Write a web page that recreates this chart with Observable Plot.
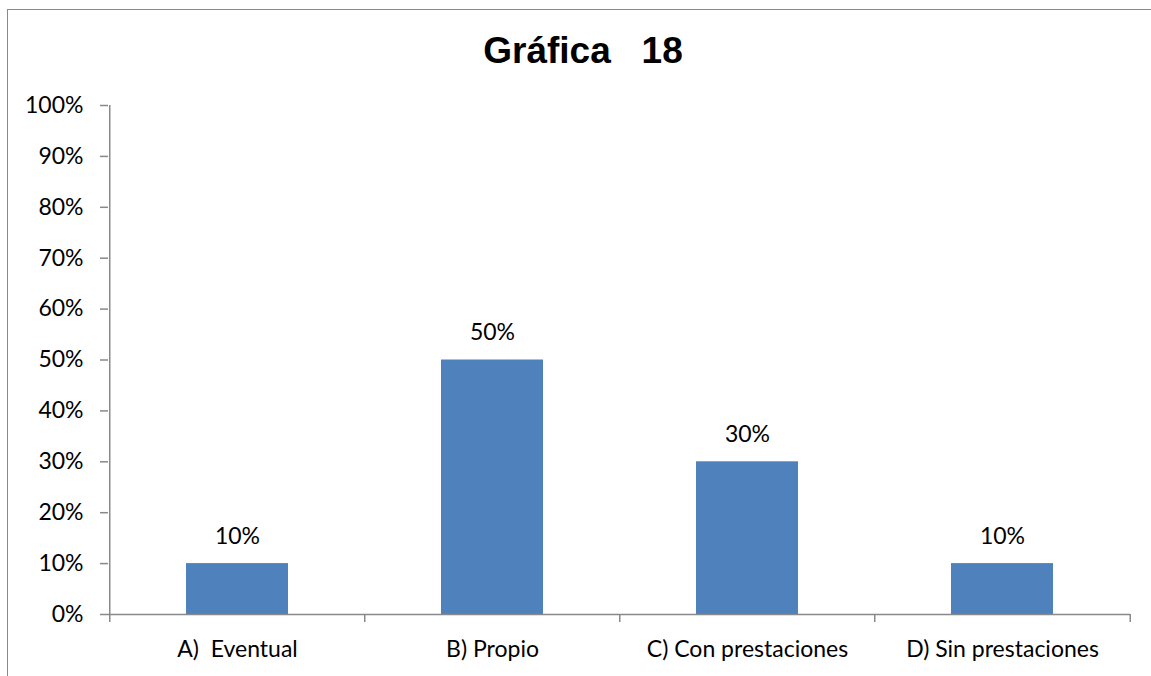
<!DOCTYPE html>
<html>
<head>
<meta charset="utf-8">
<script src="https://cdn.jsdelivr.net/npm/d3@7"></script>
<script src="https://cdn.jsdelivr.net/npm/@observablehq/plot@0.6"></script>
<style>
  html, body { margin: 0; padding: 0; background: #fff; }
  #wrap { position: relative; width: 1151px; height: 676px; overflow: hidden; }
  #border { position: absolute; left: 7px; top: 9px; width: 1160px; height: 700px;
            border-top: 1px solid #8a8a8a; border-left: 1px solid #8a8a8a; }
  #title { position: absolute; left: 16px; width: 1134px; top: 32px; text-align: center;
           font-family: "Liberation Sans", Arial, sans-serif; font-weight: bold;
           font-size: 37px; line-height: 37px; color: #000; white-space: pre; }
  #chart { position: absolute; left: 0; top: 0; }
</style>
</head>
<body>
<div id="wrap">
  <div id="border"></div>
  <div id="chart"></div>
  <div id="title">Gráfica   18</div>
</div>
<script>
const categories = ["A)  Eventual", "B) Propio", "C) Con prestaciones", "D) Sin prestaciones"];
const values = [0.10, 0.50, 0.30, 0.10];
const yTicks = [0, 0.1, 0.2, 0.3, 0.4, 0.5, 0.6, 0.7, 0.8, 0.9, 1.0];

const data = categories.map((c, i) => ({category: c, value: values[i]}));
const gray = "#898989";
const W = 1151, H = 676;
const mL = 108, mR = 21, mT = 105, mB = 62;
const step = (W - mL - mR) / categories.length;
const fs = 23;

const chart = Plot.plot({
  width: W,
  height: H,
  marginLeft: mL,
  marginRight: mR,
  marginTop: mT,
  marginBottom: mB,
  style: {fontFamily: "Lato, 'Open Sans', sans-serif", fontSize: fs + "px", color: "#000", background: "transparent"},
  x: {domain: categories, paddingInner: 0.6, paddingOuter: 0.3, axis: null, label: null},
  y: {domain: [0, 1], axis: null, label: null},
  marks: [
    Plot.barY(data, {x: "category", y: "value", fill: "#4F81BD"}),
    Plot.text(data, {x: "category", y: "value", text: d => d3.format(".0%")(d.value),
      lineAnchor: "bottom", dy: -20, fill: "#000", fontSize: fs}),
    // y axis line
    Plot.ruleX([categories[0]], {x: d => d, y1: 0, y2: 1, dx: -step / 2, stroke: gray, strokeWidth: 1.5}),
    // x axis line
    Plot.ruleY([0], {stroke: gray, strokeWidth: 1.5}),
    // category boundary ticks
    Plot.ruleX(categories, {x: d => d, y1: 0, y2: 0, insetBottom: -8, dx: -step / 2, stroke: gray, strokeWidth: 1.5}),
    Plot.ruleX([categories[categories.length - 1]], {x: d => d, y1: 0, y2: 0, insetBottom: -8, dx: step / 2, stroke: gray, strokeWidth: 1.5}),
    Plot.axisY({ticks: yTicks, tickFormat: d3.format(".0%"), tickSize: 8, tickPadding: 17, label: null,
      stroke: gray, strokeWidth: 1.5, fill: "#000", fontSize: fs}),
    Plot.axisX({tickSize: 0, tickPadding: 26, fill: "#000", fontSize: fs, label: null})
  ]
});
document.getElementById("chart").appendChild(chart);
</script>
</body>
</html>
